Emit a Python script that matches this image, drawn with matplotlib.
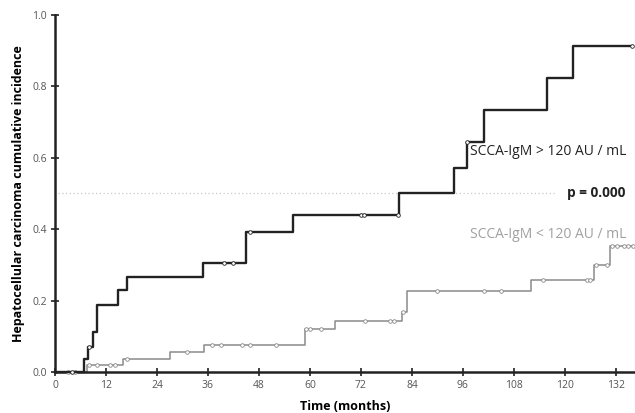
import matplotlib
matplotlib.use("Agg")
import matplotlib.pyplot as plt
import numpy as np

plt.rcParams["font.family"] = ["Open Sans", "DejaVu Sans"]

# SCCA-IgM > 120 AU/mL: step times (months) and cumulative incidence
hi_t = [0, 6.8, 7.8, 8.9, 9.9, 14.9, 16.9, 34.9, 45.0, 55.9, 81.0, 93.8, 96.9, 100.9, 115.8, 122.0, 135.8]
hi_y = [0, 0.037, 0.071, 0.112, 0.188, 0.229, 0.266, 0.306, 0.392, 0.439, 0.502, 0.572, 0.645, 0.734, 0.824, 0.914, 0.914]
hi_cens = [3.9, 8.1, 39.8, 41.9, 45.9, 72.1, 72.7, 80.8, 96.9, 135.8]

# SCCA-IgM < 120 AU/mL
lo_t = [0, 7.6, 15.9, 27.0, 35.0, 58.8, 66.0, 81.7, 82.9, 112.0, 126.9, 130.7, 136.0]
lo_y = [0, 0.019, 0.036, 0.055, 0.076, 0.12, 0.144, 0.169, 0.227, 0.258, 0.30, 0.353, 0.353]
lo_cens = [3.0, 4.6, 7.9, 9.8, 12.9, 14.1, 16.9, 31.0, 37.0, 39.0, 43.9, 45.9, 52.0, 59.0,
           60.0, 62.7, 73.0, 78.8, 79.8, 82.0, 90.0, 101.0, 105.0, 114.9, 125.1, 125.9,
           127.3, 129.8, 131.0, 132.2, 133.8, 134.9, 136.0]

x_ticks = [0, 12, 24, 36, 48, 60, 72, 84, 96, 108, 120, 132]
y_ticks = [0.0, 0.2, 0.4, 0.6, 0.8, 1.0]


def step_value(t, times, vals):
    idx = np.searchsorted(times, t, side="right") - 1
    return np.asarray(vals)[idx]


fig = plt.figure(figsize=(6.35, 4.13), dpi=100)
ax = fig.add_axes([0.0866, 0.0993, 0.9134, 0.8644])

lo_col = "#8a8a8a"
ax.step(lo_t, lo_y, where="post", color=lo_col, lw=1.1, clip_on=False, zorder=2)
ax.plot(lo_cens, step_value(lo_cens, lo_t, lo_y), "o", ms=2.6, mfc="white",
        mec=lo_col, mew=0.6, clip_on=False, zorder=3)

ax.step(hi_t, hi_y, where="post", color="#222222", lw=1.7, clip_on=False, zorder=4)
ax.plot(hi_cens, step_value(hi_cens, hi_t, hi_y), "o", ms=2.6, mfc="white",
        mec="#222222", mew=0.6, clip_on=False, zorder=5)

ax.hlines(0.5, 0.8, 118, colors="#c8c8c8", linestyles=(0, (1, 2)), lw=0.9, zorder=1)

ax.text(97.6, 0.617, "SCCA-IgM > 120 AU / mL", fontsize=10, color="#222222", va="center")
ax.text(120.5, 0.5, "p = 0.000", fontsize=9.8, color="#222222", va="center", fontweight="bold")
ax.text(97.6, 0.384, "SCCA-IgM < 120 AU / mL", fontsize=10, color="#a0a0a0", va="center")

ax.set_xlim(0, 136.5)
ax.set_ylim(0, 1.0)
ax.set_xticks(x_ticks)
ax.set_yticks(y_ticks)
ax.set_yticklabels([f"{v:.1f}" for v in y_ticks])
ax.tick_params(axis="both", direction="inout", length=6, width=1.3, labelsize=7.5,
               colors="#333333", pad=3)
for lbl in ax.get_xticklabels() + ax.get_yticklabels():
    lbl.set_color("#555555")

for side in ("top", "right"):
    ax.spines[side].set_visible(False)
for side in ("left", "bottom"):
    ax.spines[side].set_linewidth(1.8)
    ax.spines[side].set_color("#222222")

ax.set_xlabel("Time (months)", fontsize=9, fontweight="bold", labelpad=6)
ax.set_ylabel("Hepatocellular carcinoma cumulative incidence", fontsize=9,
              fontweight="bold", labelpad=5)

fig.savefig("out.png", dpi=100)
